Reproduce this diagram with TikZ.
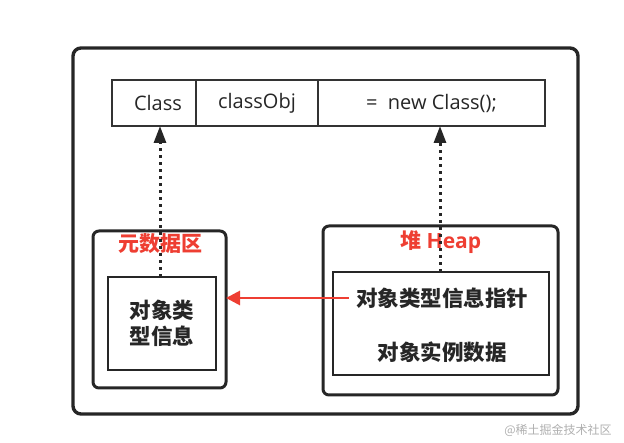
\documentclass[tikz,border=0pt]{standalone}
\usepackage{fontspec}
\setmainfont{Noto Sans CJK SC}
\newfontfamily\codefont{Open Sans}
\usetikzlibrary{arrows.meta,positioning}
\definecolor{HeapRed}{RGB}{238,62,50}
\definecolor{MarkGray}{RGB}{175,175,175}
\tikzset{
	cell/.style={draw=black!80, line width=2.8pt, outer sep=0pt, minimum height=46pt, inner sep=0pt,
		font=\codefont\fontsize{20}{24}\selectfont, text=black!85},
	region/.style={draw=black!85, line width=3pt, rounded corners=6pt, outer sep=0pt},
	inner/.style={draw=black!85, line width=2.8pt, outer sep=0pt},
	area/.style={text=HeapRed, font=\bfseries\fontsize{21}{25}\selectfont},
	txt/.style={font=\bfseries\fontsize{21.5}{26}\selectfont, text=black!85, align=center},
	ref/.style={line width=3pt, draw=black!85, dash pattern=on 3pt off 4pt,
		-{Triangle[length=17pt, width=12pt, sep=0pt]}},
	ptr/.style={line width=2.8pt, draw=HeapRed, -{Triangle[length=14pt, width=14pt]}}
}
\begin{document}
\begin{tikzpicture}[x=1pt, y=-1pt]
	\useasboundingbox (0,0) rectangle (624,443);
	% outer frame
	\node[region, rounded corners=8pt, line width=3.4pt, minimum width=505pt, minimum height=366pt] (frame) at (325.5,231) {};
	% declaration row
	\node[cell, minimum width=84pt] (cls) at (154,103) {\hspace{8pt}Class};
	\node[cell, minimum width=122pt, right=0pt of cls] (obj) {classObj};
	\node[cell, minimum width=227pt, right=0pt of obj] (newc) {=\ \ new Class();};
	% method area
	\node[region, minimum width=133pt, minimum height=157pt] (meta) at (159.5,309.5) {};
	\node[area] (metalab) at (160,244) {元数据区};
	\node[inner, minimum width=108pt, minimum height=93pt] (info) at (162,323.5) {};
	\node[txt] (infotxt) at (info.center) {对象类\\型信息};
	% heap
	\node[region, minimum width=235pt, minimum height=169pt] (heap) at (440.5,310.5) {};
	\node[area] (heaplab) at (441,242) {堆 {\codefont Heap}};
	\node[inner, minimum width=216pt, minimum height=103pt] (obj data) at (441,323.5) {};
	\node[txt, inner sep=7pt] (pointer) at (442,298) {对象类型信息指针};
	\node[txt] (instance) at (442,352) {对象实例数据};
	% references
	\draw[ref] (160,277) -- (160,126);
	\draw[ref] (440,272) -- (440,126);
	\draw[ptr] (pointer.west) -- (meta.east |- pointer.west);
	% watermark
	\node[text=MarkGray, font=\fontsize{12}{14}\selectfont] (mark) at (558,430) {@稀土掘金技术社区};
\end{tikzpicture}
\end{document}
